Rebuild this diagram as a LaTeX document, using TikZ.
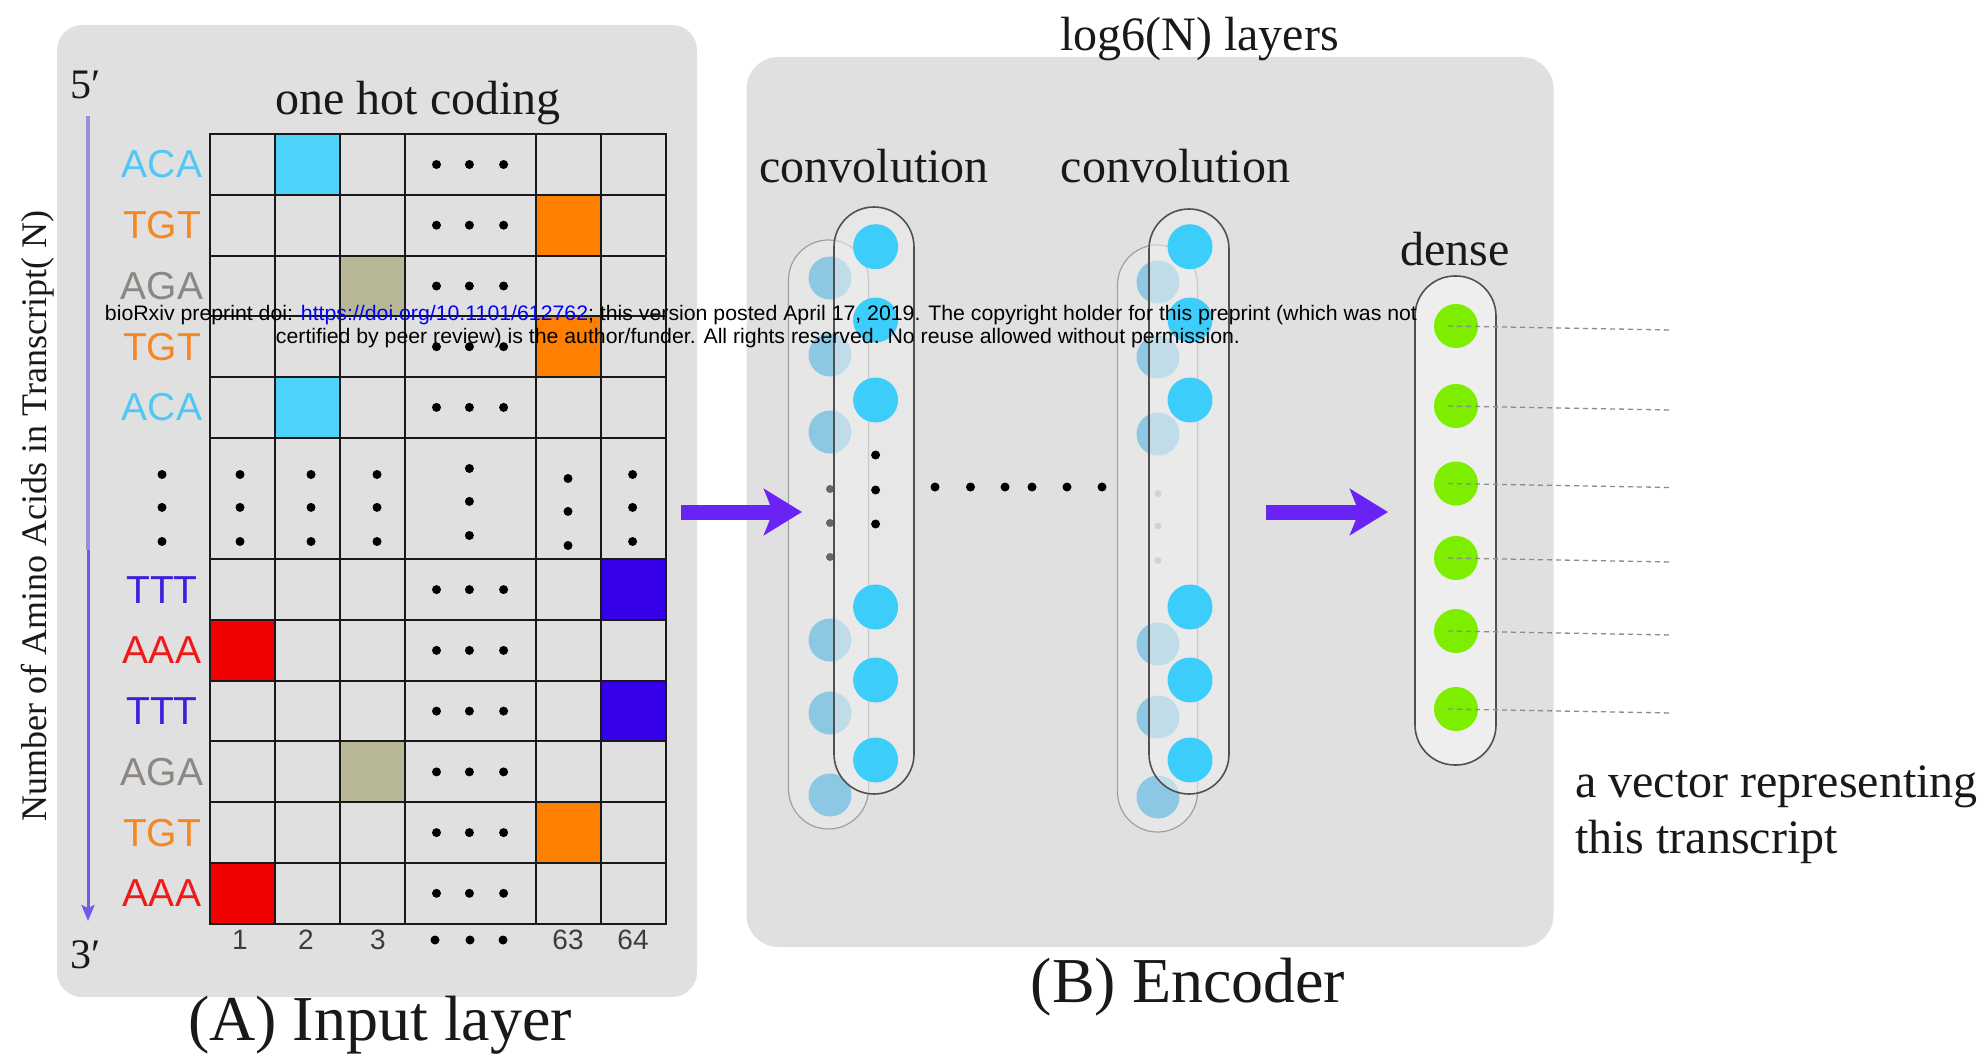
\documentclass[tikz,border=0pt]{standalone}
\usepackage{fontspec}
\usepackage{graphicx}
\setmainfont{Liberation Serif}
\newfontfamily\sansf{Liberation Sans}
\usetikzlibrary{arrows.meta}
\newcommand\myfs[1]{\fontsize{#1}{#1}\selectfont}
\definecolor{panel}{RGB}{224,224,224}
\definecolor{txtc}{RGB}{25,25,25}
\definecolor{numc}{RGB}{60,60,60}
\definecolor{gridc}{RGB}{25,25,25}
\definecolor{aca}{RGB}{80,200,245}
\definecolor{tgt}{RGB}{245,135,35}
\definecolor{aga}{RGB}{140,135,130}
\definecolor{ttt}{RGB}{60,30,220}
\definecolor{aaa}{RGB}{240,25,25}
\definecolor{cellaca}{RGB}{77,210,250}
\definecolor{celltgt}{RGB}{255,128,0}
\definecolor{cellaga}{RGB}{184,184,150}
\definecolor{cellttt}{RGB}{55,0,235}
\definecolor{cellaaa}{RGB}{240,0,0}
\definecolor{arrowc}{RGB}{105,35,245}
\definecolor{axistop}{RGB}{155,140,220}
\definecolor{axisbot}{RGB}{115,90,232}
\definecolor{frontc}{RGB}{60,205,250}
\definecolor{backc}{RGB}{140,200,228}
\definecolor{greenc}{RGB}{125,238,0}
\definecolor{pillfill}{RGB}{238,238,238}
\definecolor{frontedge}{RGB}{80,80,80}
\definecolor{backedge}{RGB}{160,160,160}
\definecolor{backfill}{RGB}{230,230,230}
\definecolor{dashc}{RGB}{140,140,140}
\begin{document}
\begin{tikzpicture}[x=1pt,y=-1pt,
  title/.style={inner sep=0pt, text=txtc, font=\myfs{64}},
  lab/.style={inner sep=0pt, text=txtc, font=\myfs{48}},
  codon/.style={inner sep=0pt, font=\sansf\myfs{39}},
  num/.style={inner sep=0pt, text=numc, font=\sansf\myfs{28}},
  panelbox/.style={fill=panel, draw=none},
  gridline/.style={draw=gridc, line width=2pt, line cap=rect},
  pillback/.style={draw=backedge, fill=backfill, line width=1.2pt, rounded corners=40pt, inner sep=0pt, minimum width=80pt},
  pillfront/.style={draw=frontedge, fill=pillfill, fill opacity=0.55, line width=1.6pt, rounded corners=40pt, inner sep=0pt, minimum width=80pt},
  fcirc/.style={circle, fill=frontc, inner sep=0pt, minimum size=45pt},
  bcirc/.style={circle, fill=backc, inner sep=0pt, minimum size=43pt},
  gcirc/.style={circle, fill=greenc, inner sep=0pt, minimum size=44pt},
  bigarrow/.style={draw=arrowc, line width=15pt, -{Stealth[length=38pt, width=46pt, inset=9pt]}},
  dashline/.style={draw=dashc, line width=1.3pt, dash pattern=on 5pt off 4pt},
]
\useasboundingbox (0,0) rectangle (1984,1057);
\fill[white] (0,0) rectangle (1984,1057);

% panels
\node[panelbox, rounded corners=25pt, minimum width=640pt, minimum height=972pt, inner sep=0pt] (panelA) at (377,511) {};
\node[panelbox, rounded corners=32pt, minimum width=807pt, minimum height=890pt, inner sep=0pt] (panelB) at (1150,502) {};

% ---------- Panel A ----------
\node[lab] (onehot) at (418,103) {one hot coding};
\node[inner sep=0pt, text=txtc, font=\myfs{42}] (five) at (86,85) {5′};
\node[inner sep=0pt, text=txtc, font=\myfs{42}] (three) at (86,955) {3′};
\node[inner sep=0pt, text=txtc, font=\myfs{36}, rotate=90] (ylab) at (38,516) {Number of Amino Acids in Transcript( N)};
\coordinate (axTop) at (88,116);
\coordinate (axMid) at (88,550);
\coordinate (axBot) at (88,921);
\draw[axistop, line width=3.5pt] (axTop) -- (axMid);
\draw[axisbot, line width=3pt, -{Stealth[length=16pt, width=13pt, inset=3pt]}] (axMid) -- (axBot);

% coloured cells
\fill[cellaca] (275.1,134.1) rectangle (340.2,194.8);
\fill[celltgt] (535.5,194.8) rectangle (600.6,255.6);
\fill[cellaga] (340.2,255.6) rectangle (405.3,316.3);
\fill[celltgt] (535.5,316.3) rectangle (600.6,377.1);
\fill[cellaca] (275.1,377.1) rectangle (340.2,437.8);
\fill[cellttt] (600.6,559.3) rectangle (665.7,620.0);
\fill[cellaaa] (210,620.0) rectangle (275.1,680.7);
\fill[cellttt] (600.6,680.7) rectangle (665.7,741.4);
\fill[cellaga] (340.2,741.4) rectangle (405.3,802.2);
\fill[celltgt] (535.5,802.2) rectangle (600.6,862.9);
\fill[cellaaa] (210,862.9) rectangle (275.1,923.7);

% grid lines
\foreach \xx in {210,275.1,340.2,405.3,535.5,600.6,665.7}
  \draw[gridline] (\xx,134.1) -- (\xx,923.7);
\foreach \yy in {134.1,194.8,255.6,316.3,377.1,437.8,559.3,620.0,680.7,741.4,802.2,862.9,923.7}
  \draw[gridline] (210,\yy) -- (665.7,\yy);

% codon labels
\foreach \k/\yy/\t/\cc in {0/164.5/ACA/aca, 1/225.2/TGT/tgt, 2/286.0/AGA/aga, 3/346.7/TGT/tgt, 4/407.4/ACA/aca,
  7/589.6/TTT/ttt, 8/650.4/AAA/aaa, 9/711.1/TTT/ttt, 10/771.9/AGA/aga, 11/832.6/TGT/tgt, 12/893.3/AAA/aaa}
  \node[codon, text=\cc] (cod\k) at (162,\yy) {\t};

% horizontal dots in the middle column
\foreach \yy in {164.5,225.2,286.0,346.7,407.4,589.6,650.4,711.1,771.9,832.6,893.3}
  \foreach \xx in {436.5,469.4,503.6}
    \fill[black] (\xx,\yy) circle (4.5pt);

% vertical dots in the dots row
\foreach \xx/\dy in {162/0, 240/0, 311/0, 377/0, 469.4/-6, 568/4, 632.6/0}
  \foreach \yy in {474.5,507.4,541.5}
    \fill[black] (\xx,{\yy+\dy}) circle (4.5pt);

% column numbers
\node[num] (n1) at (240,940) {1};
\node[num] (n2) at (306,940) {2};
\node[num] (n3) at (378,940) {3};
\foreach \xx in {435,470,503} \fill[black] (\xx,940) circle (4.5pt);
\node[num] (n63) at (568,940) {63};
\node[num] (n64) at (633,940) {64};

\node[title] (titleA) at (380,1025) {(A) Input layer};

% ---------- Panel B ----------
\node[lab] (logN) at (1199.5,39) {log6(N) layers};
\node[lab] (conv1) at (874,166) {convolution};
\node[lab] (conv2) at (1175.5,166) {convolution};
\node[lab] (dense) at (1455,249) {dense};
\node[title] (titleB) at (1188,987) {(B) Encoder};
\node[lab, anchor=west] (vec1) at (1575,787) {a vector representing};
\node[lab, anchor=west] (vec2) at (1575,842) {this transcript};

% conv layer 1
\node[pillback, minimum height=589pt] (c1b) at (828.5,534.5) {};
\foreach \i/\yy in {1/278,2/355,3/432,4/640,5/713,6/795}
  \node[bcirc] (c1bc\i) at (830,\yy) {};
\foreach \yy in {489,523,557} \fill[black!60] (830,\yy) circle (4pt);
\node[pillfront, minimum height=587pt] (c1f) at (874,500.5) {};
\foreach \i/\yy in {1/246.7,2/320,3/400,4/607,5/680,6/760}
  \node[fcirc] (c1fc\i) at (875.6,\yy) {};
\foreach \yy in {455,490,524} \fill[black] (875.6,\yy) circle (4.5pt);

% conv layer 2
\node[pillback, minimum height=587pt] (c2b) at (1157.5,538.5) {};
\foreach \i/\yy in {1/282,2/357,3/434,4/644,5/717,6/797}
  \node[bcirc] (c2bc\i) at (1158,\yy) {};
\foreach \yy in {493.5,526,560.5} \fill[black!30] (1158,\yy) circle (3.5pt);
\node[pillfront, minimum height=585pt] (c2f) at (1189,501.5) {};
\foreach \i/\yy in {1/246.7,2/320,3/400,4/607,5/680,6/760}
  \node[fcirc] (c2fc\i) at (1190,\yy) {};

% dots between layers
\foreach \xx in {935,970.5,1005,1032,1067,1102}
  \fill[black] (\xx,487) circle (4.5pt);

% dense layer
\node[draw=frontedge, fill=pillfill, line width=1.6pt, rounded corners=40pt, inner sep=0pt, minimum width=81pt, minimum height=489pt] (dpill) at (1455.5,520.5) {};
\foreach \i/\yy in {1/326,2/406,3/483.5,4/558,5/631,6/709}
  \node[gcirc] (g\i) at (1456,\yy) {};
\foreach \i/\yy in {1/326,2/406,3/483.5,4/558,5/631,6/709}
  \coordinate (ge\i) at (1671,{\yy+4});
\foreach \i in {1,...,6}
  \draw[dashline] ([xshift=-8pt]g\i.center) -- (ge\i);

% big arrows
\coordinate (a1s) at (681,512);
\coordinate (a1e) at (802,512);
\coordinate (a2s) at (1266,512);
\coordinate (a2e) at (1388,512);
\draw[bigarrow] (a1s) -- (a1e);
\draw[bigarrow] (a2s) -- (a2e);

% watermark
\node[inner sep=0pt, font=\sansf\myfs{21}] (wm1) at (761,315) {\resizebox{1312pt}{\height}{bioRxiv preprint doi: \textcolor{blue}{https://doi.org/10.1101/612762}; this version posted April 17, 2019. The copyright holder for this preprint (which was not}};
\node[inner sep=0pt, font=\sansf\myfs{21}] (wm2) at (758,338) {\resizebox{964pt}{\height}{certified by peer review) is the author/funder. All rights reserved. No reuse allowed without permission.}};
\end{tikzpicture}
\end{document}
